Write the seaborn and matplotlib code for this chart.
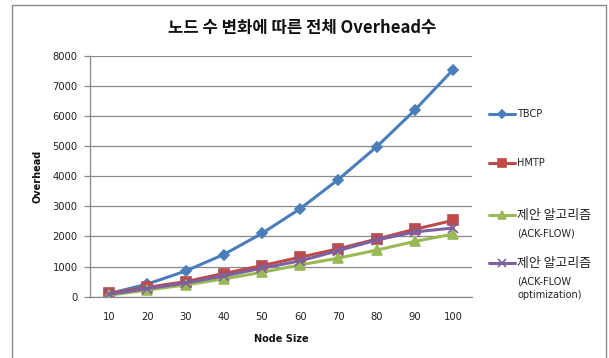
import pandas as pd
import numpy as np
import matplotlib
matplotlib.use("Agg")
import matplotlib.pyplot as plt
import seaborn as sns
from matplotlib.lines import Line2D
from matplotlib.patches import Rectangle
from matplotlib.ticker import MultipleLocator, FixedLocator, NullFormatter

# donnees
nodes = [10, 20, 30, 40, 50, 60, 70, 80, 90, 100]
tbcp = [100, 420, 850, 1400, 2100, 2920, 3890, 4970, 6190, 7530]
hmtp = [110, 310, 500, 770, 1030, 1310, 1590, 1910, 2240, 2530]
ack_flow = [50, 220, 390, 590, 810, 1055, 1280, 1545, 1835, 2080]
ack_opt = [80, 270, 450, 690, 945, 1190, 1530, 1880, 2150, 2280]

series_names = ["TBCP", "HMTP", "제안 알고리즘\n(ACK-FLOW)", "제안 알고리즘\n(ACK-FLOW\noptimization)"]
title = "노드 수 변화에 따른 전체 Overhead수"

sns.set_style("white")
plt.rcParams['font.family'] = ['DejaVu Sans', 'Noto Sans CJK KR']

colors = ["#4A7EBB", "#BE4B48", "#98B954", "#7D60A0"]
marks = ["D", "s", "^", "x"]
msizes = [5, 7.5, 7.5, 7]

df = pd.DataFrame({
    "node": nodes * 4,
    "overhead": tbcp + hmtp + ack_flow + ack_opt,
    "serie": sum([[n] * len(nodes) for n in series_names], []),
})

fig = plt.figure(figsize=(6.09, 3.58), dpi=100)
W, H = 609, 358

# cadre du graphique
fig.add_artist(Rectangle((12 / W, -0.02), 594 / W, 1 - 5 / H + 0.02, transform=fig.transFigure,
                         fill=False, edgecolor="#8a8a8a", linewidth=1.0))

ax = fig.add_axes([90 / W, 1 - 296.7 / H, 382 / W, 241 / H])

sns.lineplot(data=df, x="node", y="overhead", hue="serie",
             palette=dict(zip(series_names, colors)),
             linewidth=2.2, legend=False, ax=ax)

# marqueurs style Excel (x non rempli -> applique apres coup)
for line, c, m, ms in zip(ax.lines, colors, marks, msizes):
    line.set_marker(m)
    line.set_markeredgecolor(c)
    line.set_markerfacecolor(c)
    line.set_markersize(ms)
    line.set_markeredgewidth(1.2)

ax.set_xlim(5, 105)
ax.set_ylim(0, 8000)
ax.yaxis.set_major_locator(MultipleLocator(1000))
ax.xaxis.set_major_locator(FixedLocator(nodes))
ax.xaxis.set_minor_locator(FixedLocator(np.arange(5, 106, 10)))
ax.xaxis.set_minor_formatter(NullFormatter())
ax.grid(axis="y", color="#8a8a8a", linewidth=0.9)
ax.set_axisbelow(True)
for s in ["top", "right"]:
    ax.spines[s].set_visible(False)
for s in ["left", "bottom"]:
    ax.spines[s].set_color("#8a8a8a")
    ax.spines[s].set_linewidth(0.9)
ax.tick_params(axis="x", which="major", length=0, labelsize=7.2, pad=11, labelcolor="#222222")
ax.tick_params(axis="x", which="minor", length=4, color="#8a8a8a", width=0.9, direction="out")
ax.tick_params(axis="y", length=4, color="#8a8a8a", width=0.9, labelsize=7.2, pad=5, left=True,
               labelcolor="#222222")

ax.set_xlabel("Node Size", fontsize=7, fontweight="bold", labelpad=9, color="#111111")
ax.set_ylabel("Overhead", fontsize=7, fontweight="bold", labelpad=7, color="#111111")

fig.text(302 / W, 1 - 28 / H, title, ha="center", va="center", fontsize=12, fontweight="bold",
         family=['Noto Sans CJK KR', 'DejaVu Sans'], color="#111111")

# legende a droite : une ligne de texte a la fois (coreen plus grand)
leg_y = [114, 163, 215, 263]
leg_lines = [["TBCP"], ["HMTP"], ["제안 알고리즘", "(ACK-FLOW)"],
             ["제안 알고리즘", "(ACK-FLOW", "optimization)"]]
for lines, c, m, ms, y in zip(leg_lines, colors, marks, msizes, leg_y):
    yf = 1 - y / H
    fig.add_artist(Line2D([489 / W, 515 / W], [yf, yf], transform=fig.transFigure,
                          color=c, linewidth=2.2))
    fig.add_artist(Line2D([502 / W], [yf], transform=fig.transFigure, color=c,
                          marker=m, markersize=ms * 0.85, markeredgecolor=c, markeredgewidth=1.2))
    yy = y
    for i, txt in enumerate(lines):
        if txt.startswith("제안"):
            fig.text(517 / W, 1 - yy / H, txt, ha="left", va="center", fontsize=9.3,
                     family=['Noto Sans CJK KR', 'DejaVu Sans'], color="#222222")
            yy += 18
        else:
            fig.text(517 / W, 1 - yy / H, txt, ha="left", va="center", fontsize=7,
                     color="#222222")
            yy += 14.5

fig.savefig("out.png", dpi=100)
